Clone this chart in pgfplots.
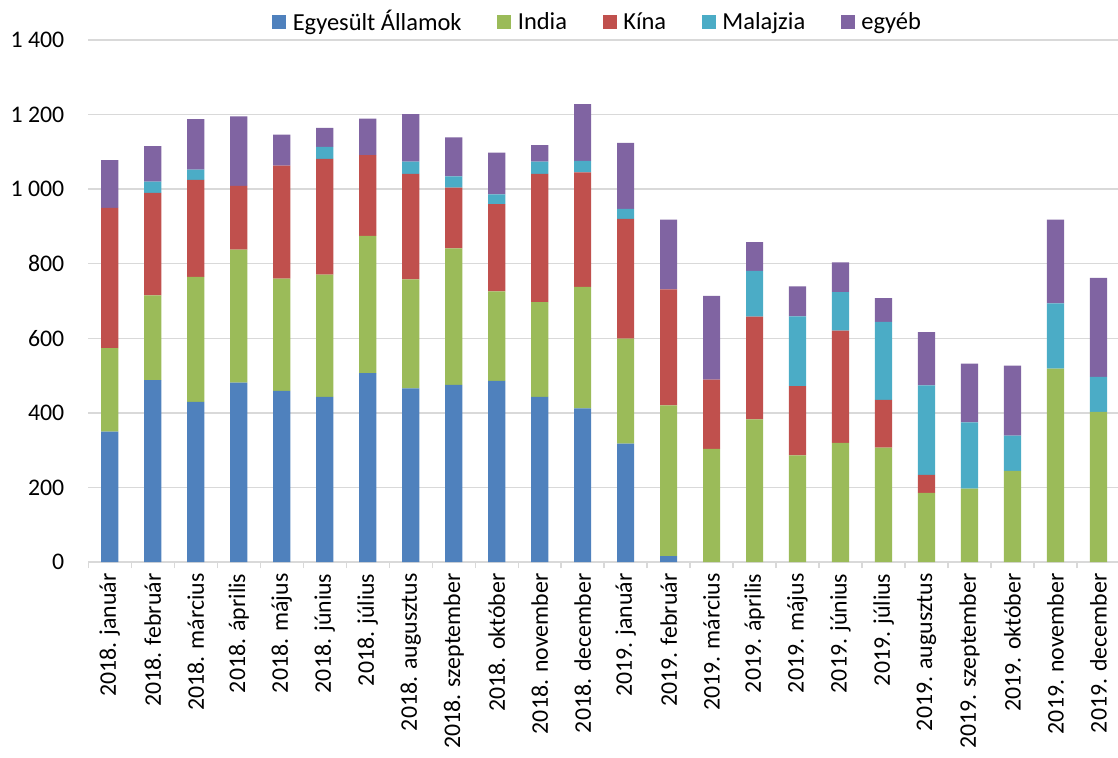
\documentclass[border=0pt]{standalone}
\usepackage{fontspec}
\setmainfont{Carlito}
\usepackage{pgfplots}
\usepackage{pgfplotstable}
\pgfplotsset{compat=1.18}
\definecolor{cUS}{HTML}{4F81BD}
\definecolor{cIN}{HTML}{9BBB59}
\definecolor{cCN}{HTML}{C0504D}
\definecolor{cMY}{HTML}{4BACC6}
\definecolor{cOT}{HTML}{8064A2}
\definecolor{gridc}{HTML}{D9D9D9}
\pgfplotstableread{
x us in cn my ot
0 350 224 376 0 128
1 488 227 275 30 95
2 430 335 260 27 136
3 481 357 171 0 186
4 459 301 303 0 83
5 443 328 310 32 51
6 507 368 216 0 98
7 466 292 283 33 127
8 475 366 163 30 105
9 486 240 234 26 112
10 443 254 344 33 44
11 412 326 307 31 152
12 318 281 321 27 177
13 16 404 311 0 187
14 0 304 185 0 225
15 0 383 275 123 77
16 0 286 186 187 80
17 0 320 301 103 80
18 0 307 128 209 64
19 0 186 48 240 143
20 0 197 0 178 157
21 0 245 0 94 188
22 0 519 0 175 224
23 0 403 0 94 265
}\datatable
\begin{document}
\begin{tikzpicture}
\useasboundingbox (-66.75pt,-148pt) rectangle (778.5pt,425pt);
\clip (-66.75pt,-148pt) rectangle (778.5pt,425pt);
\begin{axis}[
  at={(0pt,0pt)}, anchor=south west,
  scale only axis, width=780pt, height=394.8pt,
  xmin=-0.5, xmax=23.5, ymin=0, ymax=1400,
  ybar stacked, bar width=0.4,
  axis x line*=bottom, axis y line*=left,
  y axis line style={draw=none},
  x axis line style={gridc, line width=1pt},
  ytick={0,200,...,1400},
  ymajorgrids, grid style={gridc, line width=1pt},
  xtick={0,...,23},
  xticklabels={2018. január,2018. február,2018. március,2018. április,2018. május,2018. június,2018. július,2018. augusztus,2018. szeptember,2018. október,2018. november,2018. december,2019. január,2019. február,2019. március,2019. április,2019. május,2019. június,2019. július,2019. augusztus,2019. szeptember,2019. október,2019. november,2019. december},
  minor xtick={-0.5,0.5,...,23.5},
  major tick length=0pt,
  minor tick length=4.5pt,
  tick align=outside,
  minor tick style={gridc, line width=1pt},
  ticklabel style={font=\fontsize{18}{21}\selectfont, inner sep=0pt},
  xticklabel style={rotate=90, anchor=east},
  xticklabel shift=8.5pt,
  yticklabel style={anchor=east},
  yticklabel shift=18pt,
  /pgf/number format/assume math mode=true,
  /pgf/number format/1000 sep={\ },
  legend columns=5,
  legend style={at={(0.494,1.035)}, anchor=center, draw=none, fill=none,
    font=\fontsize{18.5}{21}\selectfont,
    nodes={inner sep=2pt},
    /tikz/every odd column/.append style={column sep=3pt},
    /tikz/every even column/.append style={column sep=25pt}},
  legend image code/.code={\fill[#1] (0pt,-5.25pt) rectangle (10.5pt,5.25pt);},
]
\addplot[fill=cUS, draw=none] table[x=x, y=us] {\datatable};
\addplot[fill=cIN, draw=none] table[x=x, y=in] {\datatable};
\addplot[fill=cCN, draw=none] table[x=x, y=cn] {\datatable};
\addplot[fill=cMY, draw=none] table[x=x, y=my] {\datatable};
\addplot[fill=cOT, draw=none] table[x=x, y=ot] {\datatable};
\legend{Egyesült Államok, India, Kína, Malajzia, egyéb}
\end{axis}
\end{tikzpicture}
\end{document}
